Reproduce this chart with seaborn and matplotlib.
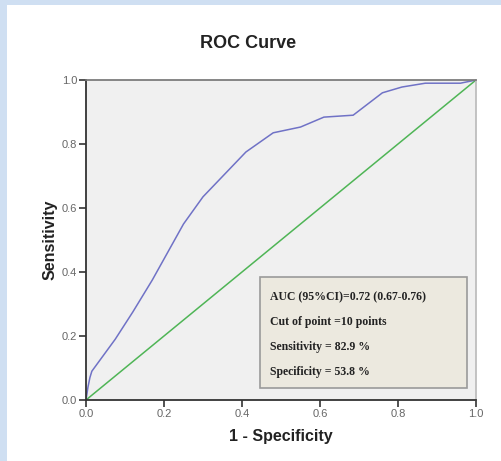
import pandas as pd
import matplotlib.pyplot as plt
import seaborn as sns
from matplotlib.patches import Rectangle

fpr = [0.0, 0.005, 0.01, 0.015, 0.075, 0.12, 0.17, 0.25, 0.30, 0.41, 0.48, 0.55, 0.61, 0.685, 0.76, 0.81, 0.87, 0.96, 1.0]
tpr = [0.0, 0.04, 0.07, 0.09, 0.19, 0.275, 0.375, 0.55, 0.635, 0.775, 0.835, 0.853, 0.884, 0.89, 0.96, 0.978, 0.99, 0.99, 1.0]
ref_x = [0.0, 1.0]
ref_y = [0.0, 1.0]
ticks = [0.0, 0.2, 0.4, 0.6, 0.8, 1.0]
box_lines = ["AUC (95%CI)=0.72 (0.67-0.76)",
             "Cut of point =10 points",
             "Sensitivity = 82.9 %",
             "Specificity = 53.8 %"]

sns.set_theme(style="white")
plt.rcParams['font.family'] = ['Liberation Sans', 'DejaVu Sans']

fig = plt.figure(figsize=(5.02, 4.61), dpi=100)
fig.patch.set_facecolor('#cfdff2')
fig.patches.append(Rectangle((7 / 502, 0), 1, (461 - 5) / 461, transform=fig.transFigure,
                             facecolor='white', edgecolor='none', zorder=-1))

ax = fig.add_axes([86 / 502, (461 - 400) / 461, 390 / 502, 320 / 461])
ax.set_zorder(1)
ax.set_facecolor('#f0f0f0')

roc = pd.DataFrame({'x': fpr, 'y': tpr})
diag = pd.DataFrame({'x': ref_x, 'y': ref_y})
sns.lineplot(data=diag, x='x', y='y', ax=ax, color='#4fb556', linewidth=1.1, sort=False)
sns.lineplot(data=roc, x='x', y='y', ax=ax, color='#7072c6', linewidth=1.1, sort=False)

ax.set_xlim(0, 1)
ax.set_ylim(0, 1)
ax.set_xticks(ticks)
ax.set_yticks(ticks)
ax.set_xticklabels([f"{t:.1f}" for t in ticks])
ax.set_yticklabels([f"{t:.1f}" for t in ticks])
ax.tick_params(axis='both', direction='out', length=5, width=1.2, color='#333333',
               labelsize=8, labelcolor='#666666', pad=1.5, bottom=True, left=True)

ax.spines['left'].set_color('#333333')
ax.spines['bottom'].set_color('#333333')
ax.spines['left'].set_linewidth(1.3)
ax.spines['bottom'].set_linewidth(1.3)
ax.spines['top'].set_color('#777777')
ax.spines['right'].set_color('#bbbbbb')

ax.set_xlabel("1 - Specificity", fontsize=11.5, fontweight='bold', color='#222222', labelpad=7)
ax.set_ylabel("Sensitivity", fontsize=11.5, fontweight='bold', color='#222222', labelpad=3)
fig.text(248 / 502, 1 - 44 / 461, "ROC Curve", ha='center', va='center',
         fontsize=13, fontweight='bold', color='#222222')

# info box
bx0, by0, bx1, by1 = 260, 277, 467, 388
box = Rectangle((bx0 / 502, 1 - by1 / 461), (bx1 - bx0) / 502, (by1 - by0) / 461,
                transform=fig.transFigure, facecolor='#ece9df',
                edgecolor='#9a9a9a', linewidth=1.2, zorder=3)
fig.add_artist(box)
for i, line in enumerate(box_lines):
    fig.text(270 / 502, 1 - (297 + i * 25) / 461, line, ha='left', va='center',
             fontsize=8.5, fontweight='bold', color='#222222',
             family=['Liberation Serif', 'DejaVu Sans'], zorder=4)

fig.savefig("out.png", dpi=100)
